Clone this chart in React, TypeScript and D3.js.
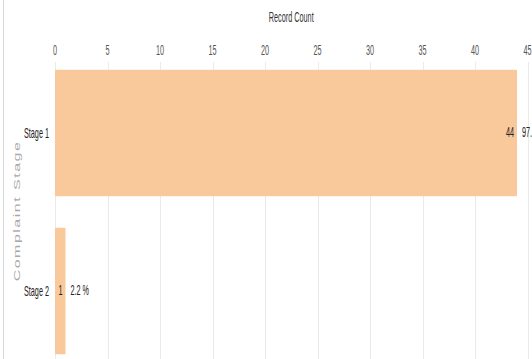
import React from "react";
import * as d3 from "d3";

const stages: string[] = ["Stage 1", "Stage 2"];
const counts: number[] = [44, 1];
const percents: string[] = ["97.8 %", "2.2 %"];
const xTicks: number[] = [0, 5, 10, 15, 20, 25, 30, 35, 40, 45];

const W = 532;
const H = 359;
const SX = 0.52; // horizontal squeeze applied to all text
const FS = 14;
const FONT = "Arial, 'Liberation Sans', sans-serif";

export default function App() {
  const x = d3.scaleLinear().domain([0, 45]).range([55, 527.5]);
  const y = d3
    .scaleBand<string>()
    .domain(stages)
    .range([54, 370])
    .paddingInner(0.2)
    .paddingOuter(0.1);

  return (
    <svg
      width={W}
      height={H}
      style={{ position: "absolute", left: 0, top: 0, background: "#fff" }}
      fontFamily={FONT}
    >
      {/* left frame line */}
      <line x1={3.5} x2={3.5} y1={0} y2={H} stroke="#d8d8d8" strokeWidth={1} />

      {/* vertical gridlines */}
      {xTicks.map((t) => (
        <line
          key={"g" + t}
          x1={Math.round(x(t)) + 0.5}
          x2={Math.round(x(t)) + 0.5}
          y1={62}
          y2={H}
          stroke="#ebebeb"
          strokeWidth={1}
        />
      ))}

      {/* tick labels */}
      {xTicks.map((t) => (
        <text
          key={"t" + t}
          transform={`translate(${x(t)},51) scale(${SX},1)`}
          textAnchor="middle"
          dominantBaseline="middle"
          fontSize={FS}
          fill="#555"
        >
          {t}
        </text>
      ))}

      {/* axis title */}
      <text
        transform={`translate(${(x(0) + x(45)) / 2},18) scale(${SX},1)`}
        textAnchor="middle"
        dominantBaseline="middle"
        fontSize={FS}
        fill="#333"
      >
        Record Count
      </text>

      {/* y axis title */}
      <text
        transform={`translate(17,211) scale(0.62,1) rotate(-90)`}
        textAnchor="middle"
        dominantBaseline="middle"
        fontSize={16}
        letterSpacing={1.5}
        fill="#a8a8a8"
      >
        Complaint Stage
      </text>

      {/* bars */}
      {stages.map((s, i) => (
        <rect
          key={"b" + s}
          x={x(0)}
          y={y(s)!}
          width={x(counts[i]) - x(0)}
          height={y.bandwidth()}
          fill="#f9c99b"
        />
      ))}

      {/* category labels */}
      {stages.map((s) => (
        <text
          key={"c" + s}
          transform={`translate(49,${y(s)! + y.bandwidth() / 2 + 1}) scale(${SX},1)`}
          textAnchor="end"
          dominantBaseline="middle"
          fontSize={FS}
          fill="#222"
        >
          {s}
        </text>
      ))}

      {/* value labels inside bars */}
      {stages.map((s, i) => (
        <text
          key={"v" + s}
          transform={`translate(${x(counts[i]) - 3},${y(s)! + y.bandwidth() / 2}) scale(${SX},1)`}
          textAnchor="end"
          dominantBaseline="middle"
          fontSize={FS}
          fill="#222"
        >
          {counts[i]}
        </text>
      ))}

      {/* percentage labels */}
      {stages.map((s, i) => (
        <text
          key={"p" + s}
          transform={`translate(${x(counts[i]) + 5},${y(s)! + y.bandwidth() / 2}) scale(${SX},1)`}
          textAnchor="start"
          dominantBaseline="middle"
          fontSize={FS}
          fill="#222"
        >
          {percents[i]}
        </text>
      ))}
    </svg>
  );
}
